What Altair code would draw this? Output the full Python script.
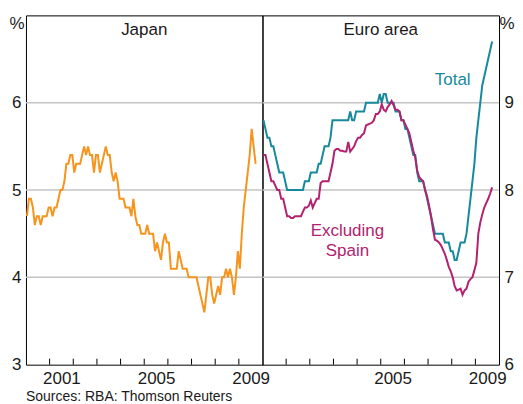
import altair as alt
import pandas as pd

# ---------------- data (monthly, Jan 2000 - Sep 2009) ----------------
START_YEAR = 2000

japan = [
    4.7, 4.9, 4.9, 4.8, 4.6, 4.7, 4.7, 4.6, 4.7, 4.7, 4.7, 4.8,
    4.8, 4.7, 4.8, 4.8, 4.9, 5.0, 5.0, 5.1, 5.3, 5.3, 5.4, 5.4,
    5.2, 5.3, 5.3, 5.3, 5.4, 5.5, 5.4, 5.5, 5.4, 5.4, 5.2, 5.4,
    5.4, 5.2, 5.3, 5.4, 5.5, 5.4, 5.4, 5.2, 5.1, 5.2, 5.1, 4.9,
    4.9, 4.9, 4.8, 4.8, 4.8, 4.7, 4.9, 4.7, 4.6, 4.6, 4.5, 4.5,
    4.5, 4.6, 4.5, 4.5, 4.5, 4.3, 4.4, 4.3, 4.2, 4.4, 4.5, 4.4,
    4.4, 4.1, 4.1, 4.1, 4.1, 4.3, 4.2, 4.1, 4.1, 4.1, 4.0, 4.0,
    4.0, 4.0, 4.0, 3.9, 3.8, 3.7, 3.6, 3.8, 4.0, 4.0, 3.8, 3.7,
    3.8, 3.9, 3.8, 4.0, 4.0, 4.1, 4.0, 4.1, 4.0, 3.8, 4.0, 4.3,
    4.1, 4.5, 4.8, 5.0, 5.2, 5.4, 5.7, 5.5, 5.3,
]

euro_total = [
    8.8, 8.7, 8.6, 8.6, 8.5, 8.5, 8.4, 8.3, 8.2, 8.2, 8.2, 8.1,
    8.0, 8.0, 8.0, 8.0, 8.0, 8.0, 8.0, 8.0, 8.0, 8.1, 8.1, 8.1,
    8.2, 8.2, 8.2, 8.2, 8.3, 8.3, 8.4, 8.5, 8.5, 8.5, 8.6, 8.8,
    8.8, 8.8, 8.8, 8.8, 8.8, 8.8, 8.8, 8.8, 8.9, 8.8, 8.8, 8.9,
    8.9, 8.9, 8.9, 8.9, 9.0, 9.0, 9.0, 9.0, 9.0, 9.0, 9.0, 9.1,
    9.0, 9.1, 9.1, 9.0, 9.0, 9.0, 9.0, 8.9, 8.9, 8.9, 8.8, 8.8,
    8.7, 8.7, 8.6, 8.5, 8.4, 8.4, 8.2, 8.1, 8.1, 8.1, 8.0, 7.9,
    7.8, 7.7, 7.6, 7.5, 7.5, 7.5, 7.5, 7.5, 7.4, 7.4, 7.4, 7.3,
    7.3, 7.2, 7.2, 7.3, 7.4, 7.4, 7.4, 7.5, 7.7, 7.9, 8.1, 8.3,
    8.6, 8.8, 9.0, 9.2, 9.3, 9.4, 9.5, 9.6, 9.7,
]

euro_ex_spain = [
    8.40, 8.40, 8.30, 8.20, 8.10, 8.10, 8.05, 8.00, 8.00, 7.90, 7.90, 7.80,
    7.70, 7.70, 7.68, 7.68, 7.70, 7.70, 7.70, 7.70, 7.75, 7.80, 7.80, 7.82,
    7.88, 7.80, 7.85, 7.90, 7.90, 8.08, 8.10, 8.10, 8.10, 8.10, 8.20, 8.30,
    8.45, 8.47, 8.47, 8.45, 8.45, 8.44, 8.44, 8.55, 8.44, 8.47, 8.50, 8.56,
    8.60, 8.60, 8.63, 8.65, 8.74, 8.75, 8.76, 8.77, 8.80, 8.87, 8.87, 8.90,
    8.98, 8.92, 8.90, 8.95, 8.98, 9.02, 8.97, 8.92, 8.92, 8.90, 8.80, 8.80,
    8.75, 8.70, 8.65, 8.55, 8.45, 8.37, 8.22, 8.15, 8.12, 8.10, 8.00, 7.93,
    7.82, 7.70, 7.55, 7.43, 7.42, 7.40, 7.37, 7.32, 7.27, 7.20, 7.12, 7.07,
    7.00, 6.90, 6.85, 6.86, 6.87, 6.80, 6.85, 6.87, 6.95, 6.98, 7.00, 7.08,
    7.17, 7.50, 7.63, 7.72, 7.80, 7.85, 7.90, 7.96, 8.03,
]

series_names = ["Total", "Excluding Spain"]
tick_years = [2001, 2002, 2003, 2004, 2005, 2006, 2007, 2008, 2009]
left_label_years = [2001, 2005, 2009]
right_label_years = [2005, 2009]
left_grid = [4, 5, 6]
right_grid = [7, 8, 9]
left_y_ticks = [3, 4, 5, 6]
right_y_ticks = [6, 7, 8, 9]
source_text = "Sources: RBA: Thomson Reuters"

ORANGE = "#F7941D"
TEAL = "#17899C"
MAGENTA = "#B2226F"
TEXT = "#1a1a1a"
GRID = "#c4c4c4"
FONT = "Liberation Sans"


def month_positions(n):
    return [START_YEAR + (i + 0.5) / 12 for i in range(n)]


jp_df = pd.DataFrame({"t": month_positions(len(japan)), "v": japan})
eu_df = pd.concat([
    pd.DataFrame({"t": month_positions(len(euro_total)), "v": euro_total, "s": series_names[0]}),
    pd.DataFrame({"t": month_positions(len(euro_ex_spain)), "v": euro_ex_spain, "s": series_names[1]}),
])

W, H = 237, 350


def x_enc(label_years):
    return alt.X(
        "t:Q",
        scale=alt.Scale(domain=[2000, 2010], nice=False, zero=False),
        axis=alt.Axis(values=[y + 0.5 for y in label_years], labelExpr="floor(datum.value)",
                      ticks=False, grid=False, domain=False, labelPadding=6, title=None),
    )


def y_enc(domain, values, orient):
    return alt.Y(
        "v:Q",
        scale=alt.Scale(domain=domain, nice=False, zero=False),
        axis=alt.Axis(
            values=values, orient=orient, grid=False, ticks=False, domain=False,
            labelPadding=5,
            title="%", titleAngle=0,
            titleAlign="right" if orient == "left" else "left",
            titleBaseline="top",
            titleX=-2 if orient == "left" else 0, titleY=0,
        ),
    )


def panel(df_lines, line_layer_fn, grid_vals, ydom, yvals, orient, label_years, texts, extra=None):
    xe = x_enc(label_years)
    ye = y_enc(ydom, yvals, orient)
    grid = alt.Chart(pd.DataFrame({"v": grid_vals})).mark_rule(color=GRID, strokeWidth=1.5).encode(y=ye)
    ticks = alt.Chart(pd.DataFrame({"t": tick_years})).mark_rule(color="black", strokeWidth=1).encode(
        x=xe, y=alt.value(H), y2=alt.value(H - 6))
    lines = line_layer_fn(alt.Chart(df_lines), xe, ye)
    layers = [grid, ticks, lines]
    for (txt, tx, ty, col) in texts:
        layers.append(
            alt.Chart(pd.DataFrame({"t": [tx], "v": [ty], "label": [txt]}))
            .mark_text(font=FONT, fontSize=17, color=col, align="center", baseline="alphabetic")
            .encode(x=xe, y=ye, text="label:N")
        )
    if extra is not None:
        layers.append(extra)
    return alt.layer(*layers).properties(width=W, height=H)


def jp_line(c, xe, ye):
    return c.mark_line(color=ORANGE, strokeWidth=2).encode(x=xe, y=ye)


def eu_line(c, xe, ye):
    return c.mark_line(strokeWidth=2).encode(
        x=xe, y=ye,
        color=alt.Color("s:N", scale=alt.Scale(domain=series_names, range=[TEAL, MAGENTA]), legend=None),
        detail="s:N",
    )


source = alt.Chart(pd.DataFrame({"label": [source_text]})).mark_text(
    font=FONT, fontSize=14, color=TEXT, align="left", baseline="alphabetic"
).encode(x=alt.value(0), y=alt.value(H + 36), text="label:N")

left = panel(jp_df, jp_line, left_grid, [3, 7], left_y_ticks, "left", left_label_years,
             [("Japan", 2005.0, 6.77, TEXT)], extra=source)
right = panel(eu_df, eu_line, right_grid, [6, 10], right_y_ticks, "right", right_label_years,
              [("Euro area", 2005.0, 9.77, TEXT),
               ("Total", 2008.04, 9.2, TEAL),
               ("Excluding", 2003.59, 7.47, MAGENTA),
               ("Spain", 2003.59, 7.245, MAGENTA)])

chart = alt.hconcat(left, right, spacing=0, bounds="flush").resolve_scale(y="independent", color="independent").properties(
    padding={"top": 5, "left": 0, "right": 0, "bottom": 0}
).configure(font=FONT).configure_view(stroke="black", strokeWidth=1).configure_axis(
    labelFont=FONT, labelFontSize=17, labelColor=TEXT,
    titleFont=FONT, titleFontSize=17, titleFontWeight="normal", titleColor=TEXT,
)

chart.save("out.html", embed_options={"renderer": "svg", "actions": False})
